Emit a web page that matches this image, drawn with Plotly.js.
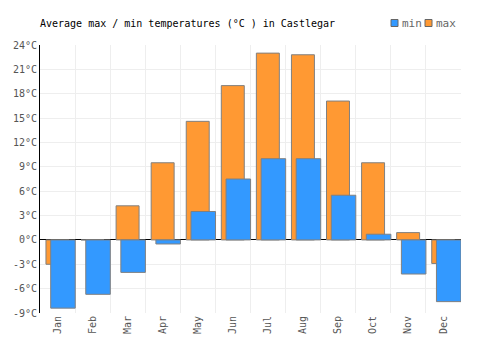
<!DOCTYPE html>
<html>
<head>
<meta charset="utf-8">
<script src="https://cdn.plot.ly/plotly-3.0.1.min.js"></script>
<style>html,body{margin:0;padding:0;background:#fff;}#chart{width:500px;height:350px;}</style>
</head>
<body>
<div id="chart"></div>
<script>
var months = ["Jan","Feb","Mar","Apr","May","Jun","Jul","Aug","Sep","Oct","Nov","Dec"];
var maxTemps = [-3.0, 0.0, 4.2, 9.5, 14.6, 19.0, 23.0, 22.8, 17.1, 9.5, 0.9, -2.9];
var minTemps = [-8.4, -6.7, -4.0, -0.5, 3.5, 7.5, 10.0, 10.0, 5.5, 0.7, -4.2, -7.6];
var yTicks = [-9, -6, -3, 0, 3, 6, 9, 12, 15, 18, 21, 24];
var seriesNames = ["min", "max"];
var seriesColors = ["#3399ff", "#ff9933"];

var font = "DejaVu Sans Mono, monospace";
var W = 500, H = 350, L = 40, R = 39, T = 45, B = 37;
var pw = W - L - R, ph = H - T - B;
function px(x) { return (x - L) / pw; }
function py(y) { return (H - B - y) / ph; }

var traceMax = {
  type: "bar", name: "max", x: months, y: maxTemps,
  offset: -0.33, width: 0.655,
  marker: {color: seriesColors[1], line: {color: "#808080", width: 1}},
  hoverinfo: "none", showlegend: false
};
var traceMin = {
  type: "bar", name: "min", x: months, y: minTemps,
  offset: -0.195, width: 0.70,
  marker: {color: seriesColors[0], line: {color: "#808080", width: 1}},
  hoverinfo: "none", showlegend: false
};

// custom legend
var legendX = [391, 425];
var shapes = [], annotations = [];
for (var i = 0; i < seriesNames.length; i++) {
  shapes.push({type: "rect", xref: "paper", yref: "paper",
    x0: px(legendX[i]), x1: px(legendX[i] + 7), y0: py(26.5), y1: py(19.5),
    fillcolor: seriesColors[i], line: {color: "#666", width: 1}});
  annotations.push({xref: "paper", yref: "paper", x: px(legendX[i] + 9), y: py(23),
    xanchor: "left", yanchor: "middle", showarrow: false, text: seriesNames[i],
    font: {family: font, size: 11, color: "#666"}});
}

var layout = {
  width: W, height: H,
  margin: {l: L, r: R, t: T, b: B},
  paper_bgcolor: "#ffffff", plot_bgcolor: "#ffffff",
  barmode: "overlay",
  font: {family: font, size: 10, color: "#555"},
  title: {text: "Average max / min temperatures (°C ) in Castlegar",
          font: {family: font, size: 10, color: "#000"},
          x: 40 / W, xref: "container", xanchor: "left",
          y: 1 - 23 / H, yref: "container", yanchor: "middle"},
  showlegend: false,
  shapes: shapes,
  annotations: annotations,
  xaxis: {
    type: "category", tickson: "boundaries", showgrid: true, gridcolor: "#eeeeee", gridwidth: 1,
    tickangle: -90, ticks: "", showline: false, zeroline: false,
    tickfont: {family: font, size: 10, color: "#555"}, fixedrange: true
  },
  yaxis: {
    range: [-9, 24], tickvals: yTicks, ticktext: yTicks.map(function(v){return v + "°C";}),
    showgrid: true, gridcolor: "#eeeeee", gridwidth: 1,
    showline: true, linecolor: "#000", linewidth: 1,
    zeroline: true, zerolinecolor: "#000", zerolinewidth: 1,
    ticks: "", tickfont: {family: font, size: 10, color: "#555"}, fixedrange: true
  }
};

Plotly.newPlot("chart", [traceMax, traceMin], layout, {displayModeBar: false, staticPlot: true});
</script>
</body>
</html>
